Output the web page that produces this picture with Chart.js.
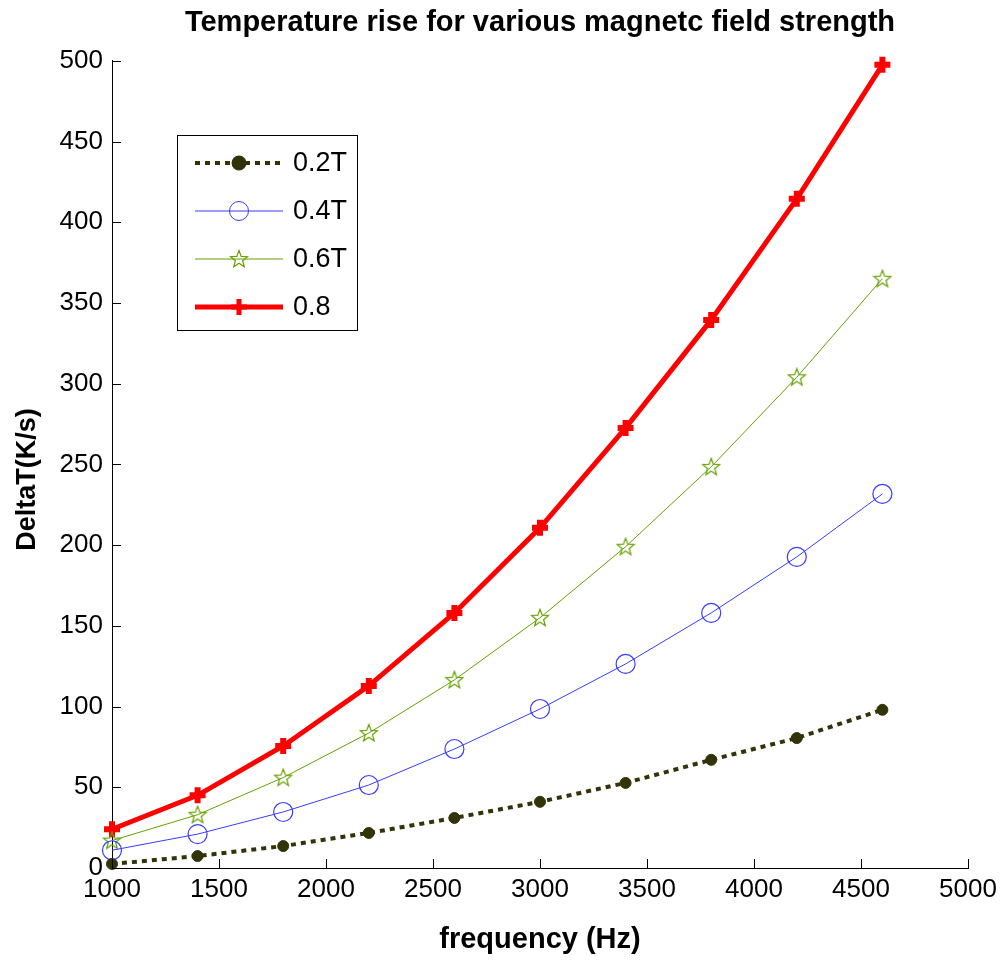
<!DOCTYPE html>
<html>
<head>
<meta charset="utf-8">
<script src="https://cdn.jsdelivr.net/npm/chart.js@4/dist/chart.umd.min.js"></script>
<style>
  html, body { margin: 0; padding: 0; background: #fff; }
  #wrap { width: 1005px; height: 964px; }
</style>
</head>
<body>
<div id="wrap"><canvas id="chart" width="1005" height="964"></canvas></div>
<script>
// values
const freq = [1000, 1400, 1800, 2200, 2600, 3000, 3400, 3800, 4200, 4600];
const t02 = [2.5, 7.4, 13.6, 21.7, 31, 41, 52.7, 67, 80.5, 98];
const t04 = [11, 21, 34.7, 51.4, 73.7, 98.5, 126.4, 158, 192.7, 231.7];
const t06 = [17, 33, 56, 83.6, 116.5, 155, 199, 248.5, 304, 365];
const t08 = [24, 45, 75.6, 112.8, 158, 210.7, 272.6, 339.5, 414.5, 497.5];
const seriesNames = ['0.2T', '0.4T', '0.6T', '0.8'];
const xTicks = [1000, 1500, 2000, 2500, 3000, 3500, 4000, 4500, 5000];
const yTicks = [0, 50, 100, 150, 200, 250, 300, 350, 400, 450, 500];

const FONT = "'Liberation Sans', Arial, sans-serif";

// 5 point star outline, matlab style
function makeStar(color) {
    const c = document.createElement('canvas');
    c.width = 20; c.height = 20;
    const g = c.getContext('2d');
    g.strokeStyle = color;
    g.lineWidth = 1.2;
    g.beginPath();
    for (let i = 0; i < 10; i++) {
        const r = i % 2 === 0 ? 9 : 3.8;
        const a = -Math.PI / 2 + i * Math.PI / 5;
        const px = 10 + r * Math.cos(a), py = 10.5 + r * Math.sin(a);
        if (i === 0) g.moveTo(px, py); else g.lineTo(px, py);
    }
    g.closePath();
    g.stroke();
    return c;
}
const starImg = makeStar('#66a000');

function pts(ys) {
    return freq.map((f, i) => ({ x: f, y: ys[i] }));
}

const datasets = [
    {
        label: seriesNames[0], data: pts(t02),
        borderColor: '#33330a', backgroundColor: '#33330a',
        borderWidth: 4, borderDash: [5, 5],
        pointStyle: 'circle', pointRadius: 5.5, pointBorderWidth: 1,
        pointBackgroundColor: '#33330a', pointBorderColor: '#33330a'
    },
    {
        label: seriesNames[1], data: pts(t04),
        borderColor: '#3a3aff', backgroundColor: 'rgba(0,0,0,0)',
        borderWidth: 1,
        pointStyle: 'circle', pointRadius: 9.5, pointBorderWidth: 1.2,
        pointBackgroundColor: 'rgba(0,0,0,0)', pointBorderColor: '#3a3aff'
    },
    {
        label: seriesNames[2], data: pts(t06),
        borderColor: '#66a000', backgroundColor: '#66a000',
        borderWidth: 1,
        pointStyle: starImg, pointRadius: 9
    },
    {
        label: seriesNames[3], data: pts(t08),
        borderColor: '#ff0000', backgroundColor: '#ff0000',
        borderWidth: 5,
        pointStyle: 'cross', pointRadius: 8, pointBorderWidth: 6,
        pointBackgroundColor: '#ff0000', pointBorderColor: '#ff0000'
    }
];
datasets.forEach(d => { d.clip = false; d.tension = 0; d.fill = false; });

// title centred over the axes, not the whole canvas
const centerTitle = {
    id: 'centerTitle',
    afterLayout(chart) {
        if (chart.titleBlock) {
            chart.titleBlock.left = chart.chartArea.left;
            chart.titleBlock.right = chart.chartArea.right;
        }
    }
};

// inward ticks like matlab
const innerTicks = {
    id: 'innerTicks',
    afterDraw(chart) {
        const { ctx, scales: { x, y } } = chart;
        ctx.save();
        ctx.strokeStyle = '#000';
        ctx.lineWidth = 1;
        xTicks.forEach(v => {
            const px = Math.round(x.getPixelForValue(v)) + 0.5;
            ctx.beginPath();
            ctx.moveTo(px, y.bottom);
            ctx.lineTo(px, y.bottom - 9);
            ctx.stroke();
        });
        yTicks.forEach(v => {
            const py = Math.round(y.getPixelForValue(v)) + 0.5;
            ctx.beginPath();
            ctx.moveTo(x.left, py);
            ctx.lineTo(x.left + 9, py);
            ctx.stroke();
        });
        ctx.restore();
    }
};

// legend box inside the axes
const boxLegend = {
    id: 'boxLegend',
    afterDraw(chart) {
        const ctx = chart.ctx;
        const bx = 177.5, by = 135.5, bw = 180, bh = 195;
        ctx.save();
        ctx.fillStyle = '#fff';
        ctx.fillRect(bx, by, bw, bh);
        ctx.strokeStyle = '#000';
        ctx.lineWidth = 1;
        ctx.strokeRect(bx, by, bw, bh);
        chart.data.datasets.forEach((d, i) => {
            const yy = 163 + i * 48;
            ctx.save();
            ctx.strokeStyle = d.borderColor;
            ctx.lineWidth = d.borderWidth;
            ctx.setLineDash(d.borderDash || []);
            ctx.beginPath();
            ctx.moveTo(195, yy);
            ctx.lineTo(283, yy);
            ctx.stroke();
            ctx.setLineDash([]);
            ctx.fillStyle = d.pointBackgroundColor || d.backgroundColor;
            ctx.strokeStyle = d.pointBorderColor || d.borderColor;
            Chart.helpers.drawPoint(ctx, {
                pointStyle: d.pointStyle,
                radius: d.pointRadius,
                borderWidth: d.pointBorderWidth === undefined ? 1 : d.pointBorderWidth,
                rotation: 0
            }, 239, yy);
            ctx.restore();
            ctx.fillStyle = '#000';
            ctx.font = '27px ' + FONT;
            ctx.textBaseline = 'middle';
            ctx.textAlign = 'left';
            ctx.fillText(d.label, 293, yy + 1);
        });
        ctx.restore();
    }
};

new Chart(document.getElementById('chart'), {
    type: 'line',
    data: { datasets },
    options: {
        responsive: false,
        animation: false,
        layout: { padding: { left: 0, right: 37, top: 0, bottom: 0 } },
        plugins: {
            legend: { display: false },
            tooltip: { enabled: false },
            title: {
                display: true,
                text: 'Temperature rise for various magnetc field strength',
                color: '#000',
                font: { family: FONT, size: 29, weight: 'bold' },
                padding: { top: 6, bottom: 20 }
            }
        },
        scales: {
            x: {
                type: 'linear', min: 1000, max: 5000,
                afterFit(s) { s.height = 96; s.paddingLeft = 0; s.paddingRight = 0; },
                afterBuildTicks(s) { s.ticks = xTicks.map(v => ({ value: v })); },
                grid: { display: false, drawTicks: false },
                border: { display: true, color: '#000', width: 1 },
                ticks: {
                    color: '#000', padding: 6, maxRotation: 0,
                    font: { family: FONT, size: 26 },
                    callback: v => String(v)
                },
                title: {
                    display: true, text: 'frequency (Hz)', color: '#000',
                    font: { family: FONT, size: 29, weight: 'bold' },
                    padding: { top: 0, bottom: 7 }
                }
            },
            y: {
                type: 'linear', min: 0, max: 500,
                afterFit(s) { s.width = 112; s.paddingTop = 0; s.paddingBottom = 0; },
                afterBuildTicks(s) { s.ticks = yTicks.map(v => ({ value: v })); },
                grid: { display: false, drawTicks: false },
                border: { display: true, color: '#000', width: 1 },
                ticks: {
                    color: '#000', padding: 9,
                    font: { family: FONT, size: 26 },
                    callback: v => String(v)
                },
                title: {
                    display: true, text: 'DeltaT(K/s)    ', color: '#000',
                    font: { family: FONT, size: 27, weight: 'bold' },
                    padding: { top: 11, bottom: 0 }
                }
            }
        }
    },
    plugins: [centerTitle, innerTicks, boxLegend]
});
</script>
</body>
</html>
